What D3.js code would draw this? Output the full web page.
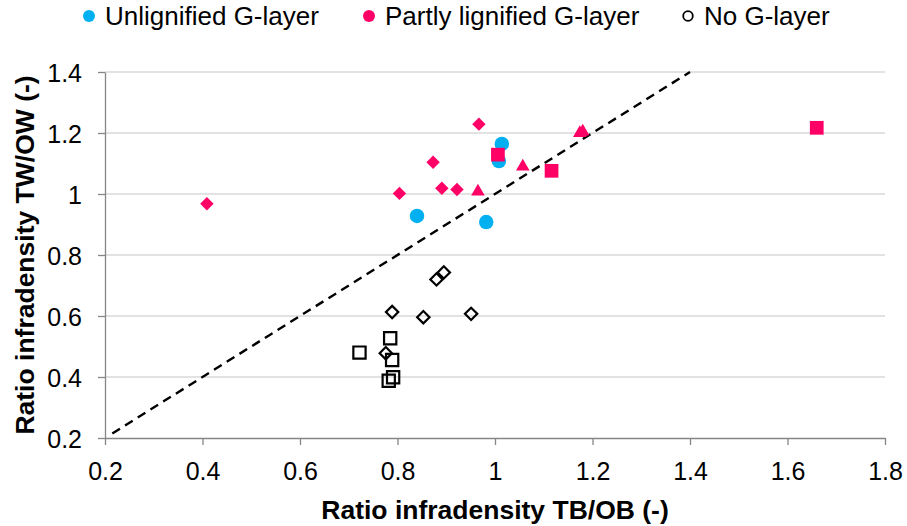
<!DOCTYPE html>
<html>
<head>
<meta charset="utf-8">
<script src="https://cdn.jsdelivr.net/npm/d3@7"></script>
<style>
  body { margin: 0; background: #fff; }
  svg { font-family: "Liberation Sans", Arial, sans-serif; }
</style>
</head>
<body>
<svg width="907" height="526"></svg>
<script>
const seriesNames = ["Unlignified G-layer", "Partly lignified G-layer", "No G-layer"];
const xTicks = [0.2, 0.4, 0.6, 0.8, 1, 1.2, 1.4, 1.6, 1.8];
const yTicks = [0.2, 0.4, 0.6, 0.8, 1, 1.2, 1.4];

// Unlignified G-layer (circles)
const unlignified = [[1.014, 1.164], [1.008, 1.108], [0.840, 0.928], [0.982, 0.908]];
// Partly lignified G-layer
const partlyDiamonds = [[0.967, 1.229], [0.873, 1.104], [0.804, 1.002], [0.891, 1.019], [0.922, 1.015], [0.409, 0.968]];
const partlyTriangles = [[0.965, 1.008], [1.057, 1.090], [1.174, 1.200], [1.180, 1.205]];
const partlySquares = [[1.006, 1.129], [1.116, 1.076], [1.660, 1.217]];
// No G-layer (open)
const noDiamonds = [[0.895, 0.743], [0.880, 0.720], [0.789, 0.613], [0.853, 0.596], [0.951, 0.607], [0.776, 0.478]];
const noSquares = [[0.785, 0.527], [0.722, 0.480], [0.789, 0.456], [0.791, 0.399], [0.782, 0.388]];

const blue = "#00b0f0", pink = "#ff0066";
const margin = { top: 72, right: 22, bottom: 88, left: 105 };
const W = 907, H = 526;
const svg = d3.select("svg");

const x = d3.scaleLinear().domain([0.2, 1.8]).range([margin.left, W - margin.right]);
const y = d3.scaleLinear().domain([0.2, 1.4]).range([H - margin.bottom, margin.top]);

// gridlines
svg.append("g")
  .selectAll("line")
  .data(yTicks.slice(1))
  .join("line")
  .attr("x1", x(0.2)).attr("x2", x(1.8))
  .attr("y1", d => y(d)).attr("y2", d => y(d))
  .attr("stroke", "#d9d9d9").attr("stroke-width", 1.5);

// axes
const xAxis = svg.append("g")
  .attr("transform", `translate(0,${y(0.2)})`)
  .call(d3.axisBottom(x).tickValues(xTicks).tickFormat(d3.format("")).tickSize(7).tickSizeOuter(0));
const yAxis = svg.append("g")
  .attr("transform", `translate(${x(0.2)},0)`)
  .call(d3.axisLeft(y).tickValues(yTicks).tickFormat(d3.format("")).tickSize(7).tickSizeOuter(0));

[xAxis, yAxis].forEach(a => {
  a.select(".domain").attr("stroke", "#868686").attr("stroke-width", 1.3);
  a.selectAll(".tick line").attr("stroke", "#868686").attr("stroke-width", 1.3);
  a.selectAll("text").attr("font-size", 25).attr("fill", "#000")
    .attr("font-family", "Liberation Sans, Arial, sans-serif");
});
xAxis.selectAll("text").attr("y", 42).attr("dy", 0);
yAxis.selectAll("text").attr("x", -23).attr("dy", "0.36em");

// 1:1 line
svg.append("line")
  .attr("x1", x(0.215)).attr("y1", y(0.215))
  .attr("x2", x(1.4)).attr("y2", y(1.4))
  .attr("stroke", "#000").attr("stroke-width", 2.4)
  .attr("stroke-dasharray", "9,6");

const sym = (type, size) => d3.symbol().type(type).size(size)();

function drawPoints(data, type, size, fill, stroke, rot) {
  svg.append("g")
    .selectAll("path")
    .data(data)
    .join("path")
    .attr("transform", d => `translate(${x(d[0])},${y(d[1])}) rotate(${rot || 0})`)
    .attr("d", sym(type, size))
    .attr("fill", fill)
    .attr("stroke", stroke)
    .attr("stroke-width", stroke === "none" ? 0 : 2.2);
}

drawPoints(noSquares, d3.symbolSquare, 150, "none", "#000");
drawPoints(noDiamonds, d3.symbolSquare, 76, "none", "#000", 45);
drawPoints(unlignified, d3.symbolCircle, 165, blue, "none");
drawPoints(partlyDiamonds, d3.symbolSquare, 90, pink, "none", 45);
drawPoints(partlyTriangles, d3.symbolTriangle, 80, pink, "none");
drawPoints(partlySquares, d3.symbolSquare, 188, pink, "none");

// axis titles
svg.append("text")
  .attr("x", (x(0.2) + x(1.8)) / 2).attr("y", 519)
  .attr("text-anchor", "middle")
  .attr("font-size", 26.5).attr("font-weight", "bold")
  .text("Ratio infradensity TB/OB (-)");
svg.append("text")
  .attr("transform", `translate(34,${(y(0.2) + y(1.4)) / 2}) rotate(-90)`)
  .attr("text-anchor", "middle")
  .attr("font-size", 26.5).attr("font-weight", "bold")
  .text("Ratio infradensity TW/OW (-)");

// legend
const legendX = [89, 369, 688];
const legendStyles = [
  { fill: blue, stroke: "none", r: 6 },
  { fill: pink, stroke: "none", r: 6 },
  { fill: "#fff", stroke: "#000", r: 4.8 }
];
const lg = svg.append("g")
  .selectAll("g")
  .data(seriesNames)
  .join("g")
  .attr("transform", (d, i) => `translate(${legendX[i]},16)`);
lg.append("circle")
  .attr("r", (d, i) => legendStyles[i].r)
  .attr("fill", (d, i) => legendStyles[i].fill)
  .attr("stroke", (d, i) => legendStyles[i].stroke)
  .attr("stroke-width", 1.8);
lg.append("text")
  .attr("x", 16).attr("y", 9)
  .attr("font-size", 26)
  .text(d => d);
</script>
</body>
</html>
